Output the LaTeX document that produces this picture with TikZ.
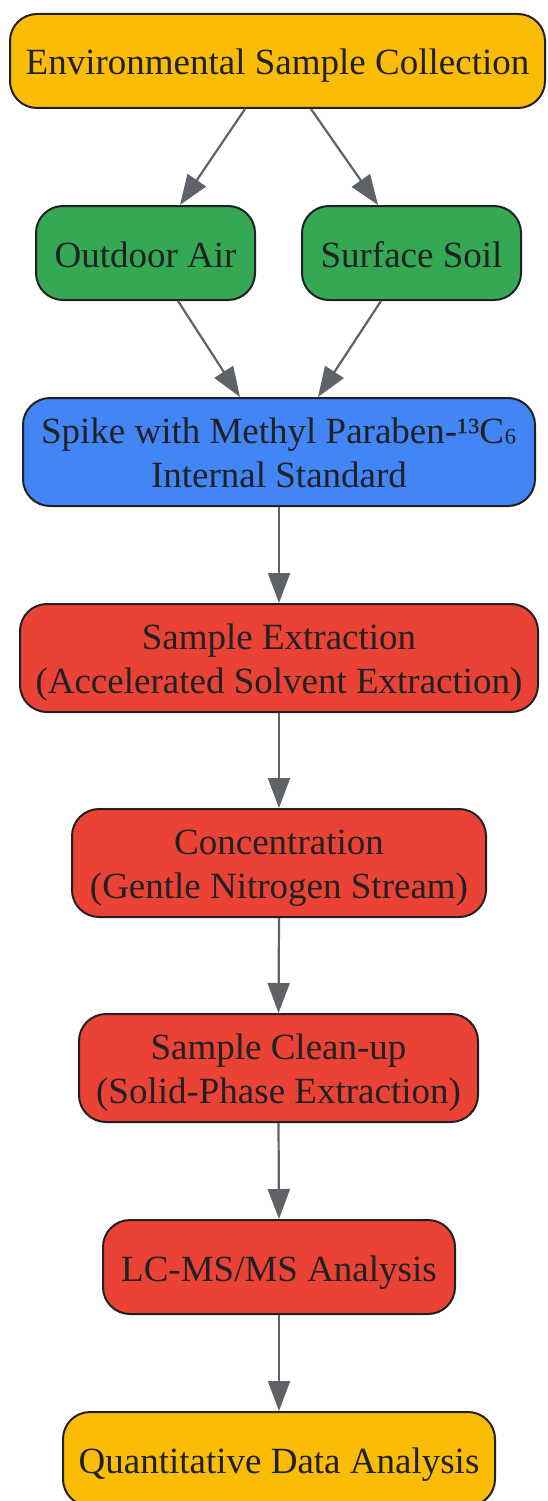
\documentclass[tikz,border=0pt]{standalone}
\usepackage{fontspec}
\setmainfont{Liberation Serif}
\usetikzlibrary{arrows.meta}
\definecolor{gy}{HTML}{FBBC05}
\definecolor{gg}{HTML}{34A853}
\definecolor{gb}{HTML}{4285F4}
\definecolor{gr}{HTML}{EA4335}
\definecolor{ink}{HTML}{202124}
\definecolor{edgegray}{HTML}{5F6368}
\begin{document}
\begin{tikzpicture}[x=1pt,y=-1pt,
  box/.style={draw=ink, line width=2pt, rounded corners=27pt, inner sep=0pt, text=ink,
    font=\fontsize{37}{44}\selectfont, align=center, text height=28pt, text depth=0pt,
    minimum height=94pt},
  boxtwo/.style={box, text height=70pt, text depth=0pt, minimum height=108pt},
  arr/.style={draw=edgegray, line width=2.2pt, -{Triangle[length=30pt,width=22pt]}}]
\useasboundingbox (0,0) rectangle (547,1501);
\node[box, fill=gy, minimum width=535pt] (env) at (277.5,61) {Environmental Sample Collection};
\node[box, fill=gg, minimum width=219pt] (air) at (145.5,253) {Outdoor Air};
\node[box, fill=gg, minimum width=219pt] (soil) at (411.5,253) {Surface Soil};
\node[boxtwo, fill=gb, minimum width=512pt] (spike) at (279,452) {Spike with Methyl Paraben-¹³C\raisebox{0.17em}{₆}\\Internal Standard};
\node[boxtwo, fill=gr, minimum width=518pt] (ext) at (279,658) {Sample Extraction\\(Accelerated Solvent Extraction)};
\node[boxtwo, fill=gr, minimum width=414pt] (conc) at (279,863) {Concentration\\(Gentle Nitrogen Stream)};
\node[boxtwo, fill=gr, minimum width=399pt] (clean) at (278.5,1068) {Sample Clean-up\\(Solid-Phase Extraction)};
\node[box, fill=gr, minimum width=352pt] (lc) at (279,1267) {LC-MS/MS Analysis};
\node[box, fill=gy, minimum width=432pt] (quant) at (279,1459) {Quantitative Data Analysis};
\draw[arr] ([xshift=-32.5pt]env.south) -- ([xshift=34.5pt]air.north);
\draw[arr] ([xshift=33.5pt]env.south) -- ([xshift=-33.5pt]soil.north);
\draw[arr] ([xshift=32.5pt]air.south) -- ([xshift=-39pt]spike.north);
\draw[arr] ([xshift=-30.5pt]soil.south) -- ([xshift=39pt]spike.north);
\draw[arr] (spike.south) -- (ext.north);
\draw[arr] (ext.south) -- (conc.north);
\draw[arr] (conc.south) -- (clean.north);
\draw[arr] (clean.south) -- (lc.north);
\draw[arr] (lc.south) -- (quant.north);
\end{tikzpicture}
\end{document}
